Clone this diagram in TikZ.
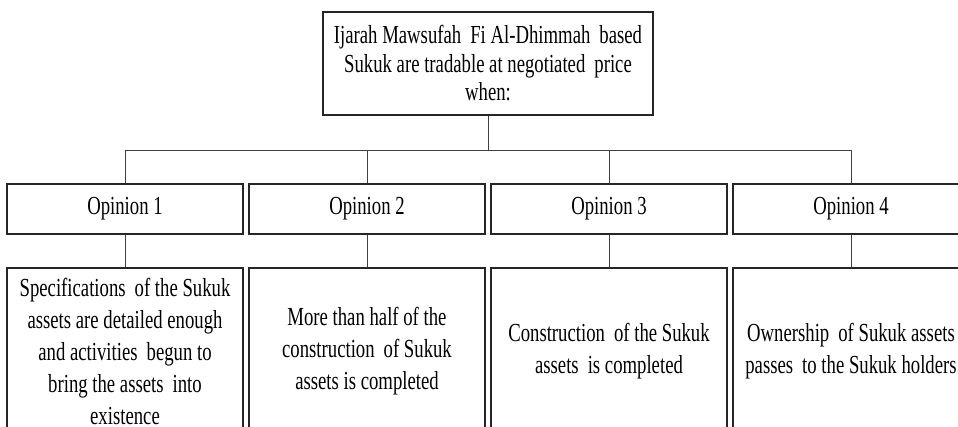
\documentclass[tikz,border=0pt]{standalone}
\usepackage{fontspec}
\setmainfont{Liberation Serif}[FakeStretch=0.72]
\begin{document}
\begin{tikzpicture}[x=1pt,y=-1pt,
  box/.style={draw=black!85,line width=1.1pt,inner sep=0pt,align=center,
    font=\fontsize{26}{32}\selectfont},
  topbox/.style={box,minimum width=330pt,minimum height=103pt,
    font=\fontsize{26}{28.5}\selectfont},
  opbox/.style={box,minimum width=236pt,minimum height=50pt},
  descbox/.style={box,minimum width=236pt,minimum height=166pt},
  link/.style={draw=black!75,line width=0.9pt}]
\clip (0,0) rectangle (958,427);
\node[topbox] (top) at (488,63.5) {Ijarah Mawsufah\, Fi Al-Dhimmah\, based\\Sukuk are tradable at negotiated\, price\\when:};
\coordinate (bus) at (488,150);
\foreach \i/\x in {1/125,2/367,3/609,4/851}{
  \node[opbox] (o\i) at (\x,209) {Opinion \i};
}
\node[descbox] (d1) at (125,351) {Specifications\, of the Sukuk\\assets are detailed enough\\and activities\, begun to\\bring the assets\, into\\existence};
\node[descbox] (d2) at (367,351) {More than half of the\\construction\, of Sukuk\\assets is completed};
\node[descbox] (d3) at (609,351) {Construction\, of the Sukuk\\assets\, is completed};
\node[descbox] (d4) at (851,351) {Ownership\, of Sukuk assets\\passes\, to the Sukuk holders};
\path[link] (top.south) -- (top.south |- bus);
\path[link] (o1.north |- bus) -- (o4.north |- bus);
\foreach \i in {1,2,3,4}{
  \path[link] (o\i.north |- bus) -- (o\i.north);
  \path[link] (o\i.south) -- (d\i.north);
}
\end{tikzpicture}
\end{document}
